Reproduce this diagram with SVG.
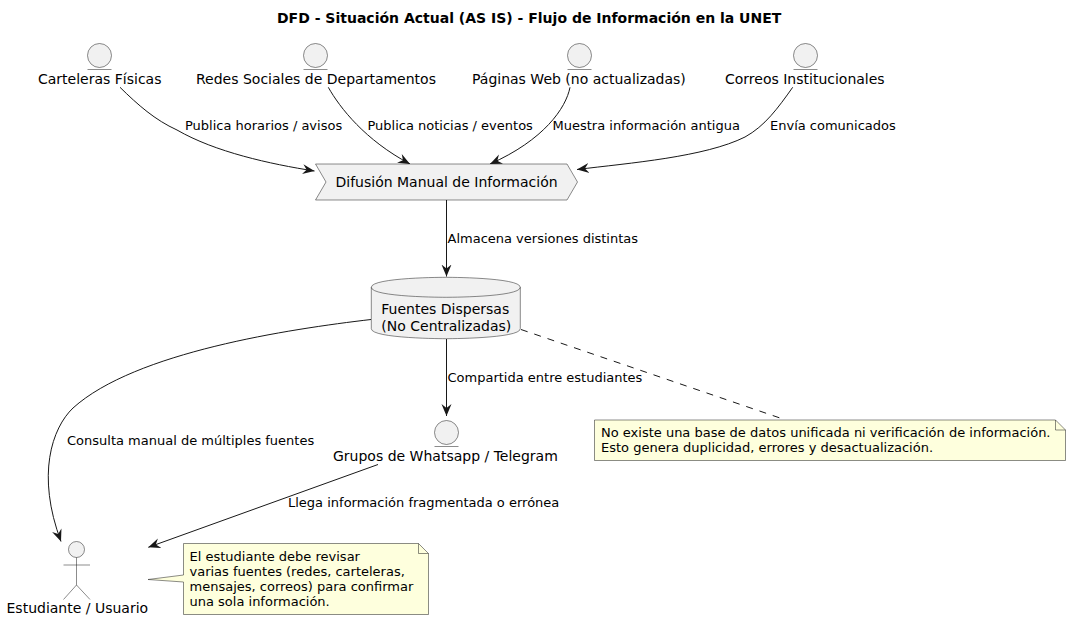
<svg xmlns="http://www.w3.org/2000/svg" width="1071" height="621" viewBox="0 0 1071 621">
<style>
text{font-family:"DejaVu Sans",sans-serif;fill:#000}
.t{font-size:14px;font-weight:bold}
.n{font-size:14px}
.l{font-size:13px}
.s{fill:#F1F1F1;stroke:#181818;stroke-width:.5}
.u{fill:none;stroke:#181818;stroke-width:.5}
.y{fill:#FEFFDD;stroke:#181818;stroke-width:.5}
.c{fill:none;stroke:#181818;stroke-width:1}
.d{stroke-dasharray:7,7}
</style>
<defs>
<marker id="a" markerUnits="userSpaceOnUse" markerWidth="14" markerHeight="12" refX="12" refY="5" orient="auto" viewBox="0 0 14 10"><path d="M0,0 L12,5 L0,10 L4,5 Z" fill="#181818"/></marker>
</defs>
<text class="t" x="277" y="23">DFD - Situación Actual (AS IS) - Flujo de Información en la UNET</text>
<g id="connectors">
<path class="c" marker-end="url(#a)" d="M120,87.3 C138,105 155,120 177,130 C215,152 270,164 314.5,171"/>
<path class="c" marker-end="url(#a)" d="M328.3,87.3 C340,108 365,140 410,164"/>
<path class="c" marker-end="url(#a)" d="M570,87.3 C566,108 544,140 490,164"/>
<path class="c" marker-end="url(#a)" d="M792.7,87.3 C778,108 765,126 745,137 C705,157 630,163 577,169.5"/>
<path class="c" marker-end="url(#a)" d="M446.5,200 L446.5,276.5"/>
<path class="c" marker-end="url(#a)" d="M446.5,339 L446.5,416"/>
<path class="c" marker-end="url(#a)" d="M371,319.5 C290,329 135,352 73,408 C52,428 36,475 61,541.5"/>
<path class="c" marker-end="url(#a)" d="M378,464.5 L148.3,547.3"/>
<path class="c d" d="M521,329.5 L780,418"/>
</g>
<g id="carteleras"><circle class="s" cx="99.5" cy="55.5" r="12"/><path class="u" d="M87.5,69.5H111.5"/><text class="n" x="38" y="84">Carteleras Físicas</text></g>
<g id="redes"><circle class="s" cx="315.5" cy="55.5" r="12"/><path class="u" d="M303.5,69.5H327.5"/><text class="n" x="196" y="84">Redes Sociales de Departamentos</text></g>
<g id="paginas"><circle class="s" cx="579.5" cy="55.5" r="12"/><path class="u" d="M567.5,69.5H591.5"/><text class="n" x="472" y="84">Páginas Web (no actualizadas)</text></g>
<g id="correos"><circle class="s" cx="805.5" cy="55.5" r="12"/><path class="u" d="M793.5,69.5H817.5"/><text class="n" x="725" y="84">Correos Institucionales</text></g>
<g id="difusion"><path class="s" d="M315.5,164 H567 L577.5,182 L567,200 H315.5 L326,182 Z"/><text class="n" x="335.5" y="187">Difusión Manual de Información</text></g>
<g id="fuentes"><path class="s" d="M371.3,287.3 C371.3,277.3 445.8,277.3 445.8,277.3 C445.8,277.3 520.3,277.3 520.3,287.3 V328.7 C520.3,338.7 445.8,338.7 445.8,338.7 C445.8,338.7 371.3,338.7 371.3,328.7 Z"/><path class="u" d="M371.3,287.3 C371.3,297.3 445.8,297.3 445.8,297.3 C445.8,297.3 520.3,297.3 520.3,287.3"/><text class="n" x="381.3" y="314.3">Fuentes Dispersas</text><text class="n" x="381.3" y="331">(No Centralizadas)</text></g>
<g id="grupos"><circle class="s" cx="446.5" cy="432.5" r="12"/><path class="u" d="M434.5,446.5H458.5"/><text class="n" x="333" y="461">Grupos de Whatsapp / Telegram</text></g>
<g id="estudiante"><circle class="s" cx="76.5" cy="549.5" r="8"/><path class="u" d="M76.5,557.5V585M63.5,565H90M76.5,585L63.5,599.5M76.5,585L90,599.5"/><text class="n" x="6.5" y="613">Estudiante / Usuario</text></g>
<g id="labels">
<text class="l" x="185" y="130">Publica horarios / avisos</text>
<text class="l" x="367.5" y="130">Publica noticias / eventos</text>
<text class="l" x="552.5" y="130">Muestra información antigua</text>
<text class="l" x="770" y="130">Envía comunicados</text>
<text class="l" x="447.5" y="243">Almacena versiones distintas</text>
<text class="l" x="447.5" y="382">Compartida entre estudiantes</text>
<text class="l" x="67" y="445">Consulta manual de múltiples fuentes</text>
<text class="l" x="288" y="507">Llega información fragmentada o errónea</text>
</g>
<g id="nota-fuentes"><path class="y" d="M594.5,420 H1055.5 L1065.5,430 V460.5 H594.5 Z"/><path class="u" d="M1055.5,420 V430 H1065.5"/><text class="l" x="601" y="436.5">No existe una base de datos unificada ni verificación de información.</text><text class="l" x="601" y="451.5">Esto genera duplicidad, errores y desactualización.</text></g>
<g id="nota-estudiante"><path class="y" d="M183.5,543.5 H418.5 L428.5,553.5 V614.5 H183.5 V582 L148,579.5 L183.5,575 Z"/><path class="u" d="M418.5,543.5 V553.5 H428.5"/><text class="l" x="189.5" y="561">El estudiante debe revisar</text><text class="l" x="189.5" y="576">varias fuentes (redes, carteleras,</text><text class="l" x="189.5" y="591">mensajes, correos) para confirmar</text><text class="l" x="189.5" y="606">una sola información.</text></g>
</svg>
